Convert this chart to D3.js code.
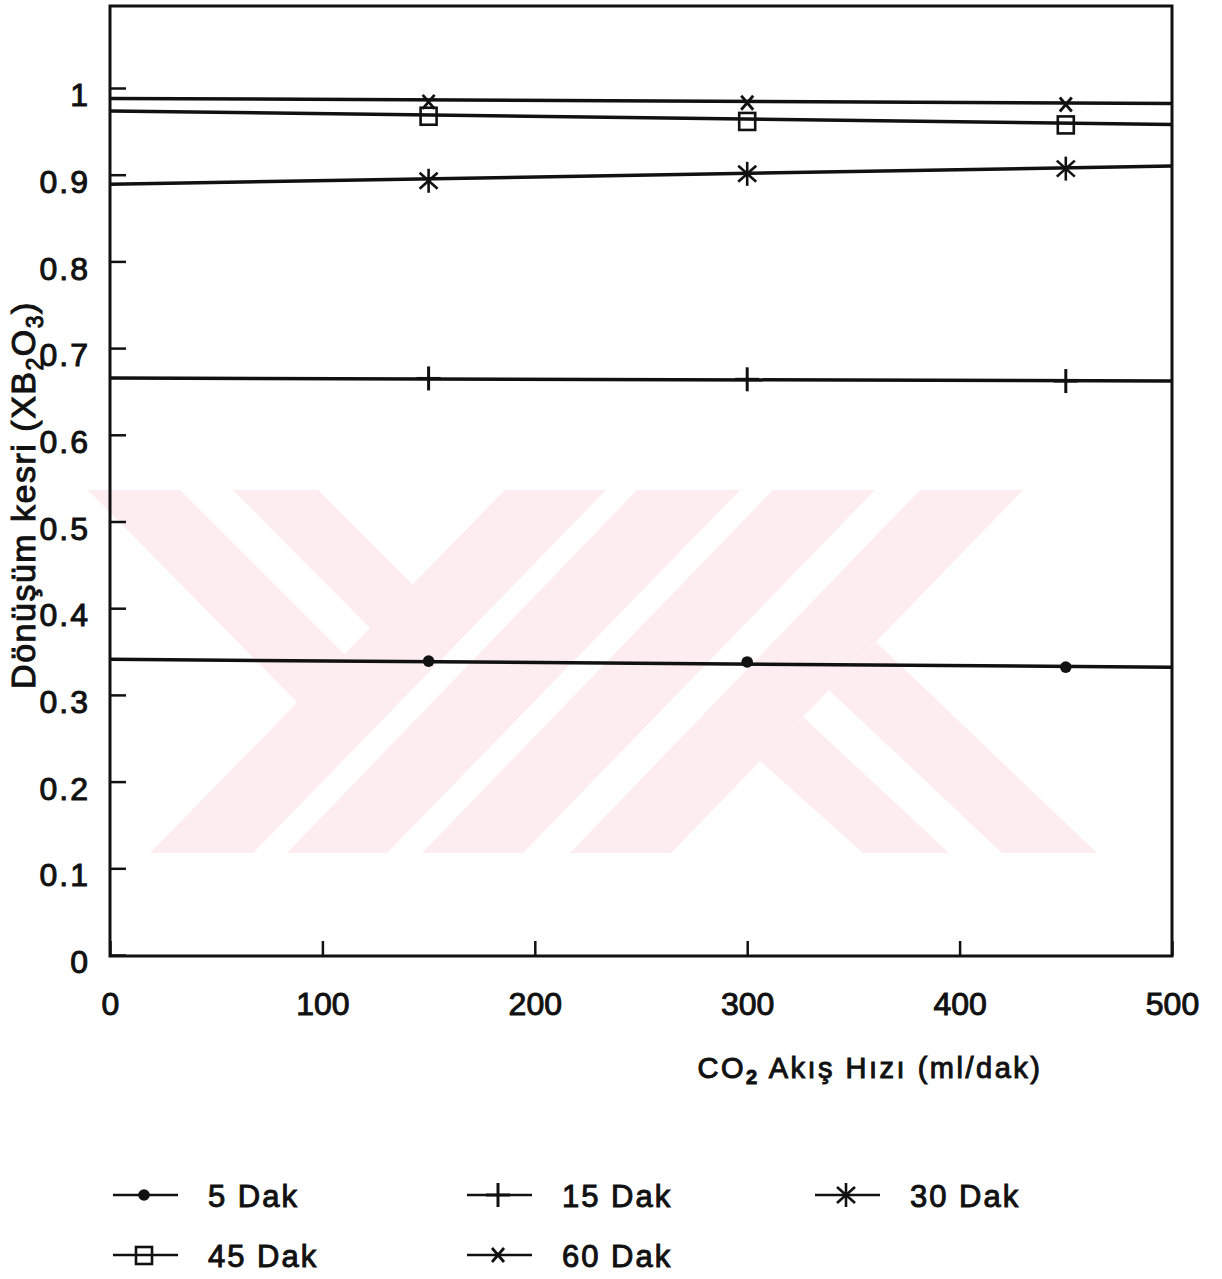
<!DOCTYPE html>
<html>
<head>
<meta charset="utf-8">
<script src="https://cdn.jsdelivr.net/npm/d3@7"></script>
<style>
  body { margin: 0; background: #fff; }
  text { font-family: "Liberation Sans", Arial, sans-serif; fill: #111; stroke: #111; stroke-width: 1; }
</style>
</head>
<body>
<svg id="chart" width="1222" height="1279"></svg>
<script>
(function () {

  /***** Data *****/
  var flowRates = [150, 300, 450]            // CO2 akis hizi, ml/dak
  var seriesNames = ["5 Dak", "15 Dak", "30 Dak", "45 Dak", "60 Dak"]
  var seriesSymbols = ["dot", "plus", "asterisk", "square", "cross"]

  var conv5 = [0.339, 0.338, 0.332]
  var conv15 = [0.665, 0.664, 0.662]
  var conv30 = [0.893, 0.901, 0.907]
  var conv45 = [0.968, 0.962, 0.958]
  var conv60 = [0.984, 0.983, 0.981]

  // drawn straight lines, value at x = 0 and x = 500
  var fitX = [0, 500]
  var fit5 = [0.341, 0.332]
  var fit15 = [0.6655, 0.662]
  var fit30 = [0.889, 0.910]
  var fit45 = [0.9735, 0.958]
  var fit60 = [0.988, 0.982]

  var xTicks = [0, 100, 200, 300, 400, 500]
  var yTicks = [0, 0.1, 0.2, 0.3, 0.4, 0.5, 0.6, 0.7, 0.8, 0.9, 1]
  var yTickLabels = ["0", "0.1", "0.2", "0.3", "0.4", "0.5", "0.6", "0.7", "0.8", "0.9", "1"]

  var points = [conv5, conv15, conv30, conv45, conv60]
  var fits = [fit5, fit15, fit30, fit45, fit60]

  /***** Configuration *****/
  var plot = { left: 110, right: 1172, top: 6, bottom: 956 }
  var ink = "#111"
  var pink = "#fdecf0"

  var svg = d3.select("#chart")

  var x = d3.scaleLinear().domain([0, 500]).range([plot.left, plot.right])
  var y = d3.scaleLinear().domain([0, 1]).range([955, 88])

  // faint watermark behind the plot
  var mark = svg.append("g").attr("class", "watermark")
  var bands = [
    [[150, 853], [253, 853], [606, 490], [505, 490]],
    [[287, 853], [387, 853], [740, 490], [637, 490]],
    [[422, 853], [523, 853], [875, 490], [773, 490]],
    [[570, 853], [671, 853], [1023, 490], [920, 490]],
    [[88, 490], [180, 490], [350, 660], [298, 703]],
    [[233, 490], [318, 490], [418, 590], [376, 634]],
    [[760, 761], [803, 717], [949, 853], [863, 853]],
    [[829, 690], [876, 642], [1097, 853], [1002, 853]]
  ]
  mark.selectAll("polygon")
    .data(bands)
    .join("polygon")
    .attr("points", d => d.map(p => p.join(",")).join(" "))
    .attr("fill", pink)

  /***** Axes *****/
  var yAxis = d3.axisLeft(y)
    .tickValues(yTicks)
    .tickFormat((d, i) => yTickLabels[i])
    .tickSizeInner(-16)
    .tickSizeOuter(0)
    .tickPadding(20)

  var gy = svg.append("g")
    .attr("transform", "translate(" + plot.left + ",0)")
    .call(yAxis)
  gy.select(".domain").remove()
  gy.selectAll(".tick line").attr("stroke", ink).attr("stroke-width", 2.5)
  gy.selectAll(".tick text")
    .attr("font-size", 32)
    .attr("letter-spacing", 2)
    .attr("dy", "0.55em")
    .attr("fill", ink)
    .style("font-family", "'Liberation Sans', Arial, sans-serif")

  var xAxis = d3.axisBottom(x)
    .tickValues(xTicks)
    .tickFormat(d3.format("d"))
    .tickSizeInner(-15)
    .tickSizeOuter(0)
    .tickPadding(36)

  var gx = svg.append("g")
    .attr("transform", "translate(0," + plot.bottom + ")")
    .call(xAxis)
  gx.select(".domain").remove()
  gx.selectAll(".tick line").attr("stroke", ink).attr("stroke-width", 2.5)
  gx.selectAll(".tick text")
    .attr("font-size", 32)
    .attr("fill", ink)
    .style("font-family", "'Liberation Sans', Arial, sans-serif")

  // frame
  svg.append("rect")
    .attr("x", plot.left)
    .attr("y", plot.top)
    .attr("width", plot.right - plot.left)
    .attr("height", plot.bottom - plot.top)
    .attr("fill", "none")
    .attr("stroke", ink)
    .attr("stroke-width", 3)

  /***** Series *****/
  var line = d3.line()
    .x(d => x(d[0]))
    .y(d => y(d[1]))

  svg.append("g")
    .selectAll("path")
    .data(fits)
    .join("path")
    .attr("d", d => line(fitX.map((v, i) => [v, d[i]])))
    .attr("fill", "none")
    .attr("stroke", ink)
    .attr("stroke-width", 3.5)

  function drawSymbol(g, type, cx, cy) {
    var s = g.append("g").attr("transform", "translate(" + cx + "," + cy + ")")
      .attr("stroke", ink).attr("fill", "none")
    if (type == "dot") {
      s.append("circle").attr("r", 5.8).attr("fill", ink).attr("stroke", "none")
    } else if (type == "plus") {
      s.append("line").attr("x1", 0).attr("x2", 0).attr("y1", -12).attr("y2", 12).attr("stroke-width", 3)
      s.append("line").attr("x1", -12).attr("x2", 12).attr("y1", 0).attr("y2", 0).attr("stroke-width", 3)
    } else if (type == "asterisk") {
      s.append("line").attr("x1", 0).attr("x2", 0).attr("y1", -12).attr("y2", 12).attr("stroke-width", 2.6)
      s.append("line").attr("x1", -9).attr("x2", 9).attr("y1", -8).attr("y2", 8).attr("stroke-width", 2.6)
      s.append("line").attr("x1", -9).attr("x2", 9).attr("y1", 8).attr("y2", -8).attr("stroke-width", 2.6)
    } else if (type == "square") {
      s.append("rect").attr("x", -8).attr("y", -8).attr("width", 16).attr("height", 17).attr("stroke-width", 2.6)
    } else if (type == "cross") {
      s.append("line").attr("x1", -6).attr("x2", 6).attr("y1", -7).attr("y2", 7).attr("stroke-width", 2.8)
      s.append("line").attr("x1", -6).attr("x2", 6).attr("y1", 7).attr("y2", -7).attr("stroke-width", 2.8)
    }
  }

  var markers = svg.append("g")
  points.forEach(function (vals, si) {
    vals.forEach(function (v, i) {
      drawSymbol(markers, seriesSymbols[si], x(flowRates[i]), y(v))
    })
  })

  /***** Axis titles *****/
  var xt = svg.append("text")
    .attr("x", 870)
    .attr("y", 1078)
    .attr("text-anchor", "middle")
    .attr("font-size", 29)
    .attr("letter-spacing", 2.5)
  xt.append("tspan").text("CO")
  xt.append("tspan").attr("dy", 6).attr("font-size", 20).attr("font-weight", "bold").text("2")
  xt.append("tspan").attr("dy", -6).text(" Akış  Hızı (ml/dak)")

  var yt = svg.append("text")
    .attr("transform", "translate(35,495) rotate(-90)")
    .attr("text-anchor", "middle")
    .attr("font-size", 34)
    .attr("letter-spacing", 1.5)
  yt.append("tspan").text("Dönüşüm  kesri (XB")
  yt.append("tspan").attr("dy", 8).attr("font-size", 23).text("2")
  yt.append("tspan").attr("dy", -8).text("O")
  yt.append("tspan").attr("dy", 8).attr("font-size", 23).text("3")
  yt.append("tspan").attr("dy", -8).text(")")

  /***** Legend *****/
  var legendCols = [113, 467, 815]
  var legendRows = [1195, 1255]

  var legend = svg.append("g")
  seriesNames.forEach(function (name, i) {
    var lx = legendCols[i % 3]
    var ly = legendRows[Math.floor(i / 3)]
    legend.append("line")
      .attr("x1", lx).attr("x2", lx + 65)
      .attr("y1", ly).attr("y2", ly)
      .attr("stroke", ink).attr("stroke-width", 2.5)
    drawSymbol(legend, seriesSymbols[i], lx + 31, ly)
    legend.append("text")
      .attr("x", lx + 95)
      .attr("y", ly + 12)
      .attr("font-size", 31)
      .attr("letter-spacing", 2)
      .text(name)
  })

})()
</script>
</body>
</html>
